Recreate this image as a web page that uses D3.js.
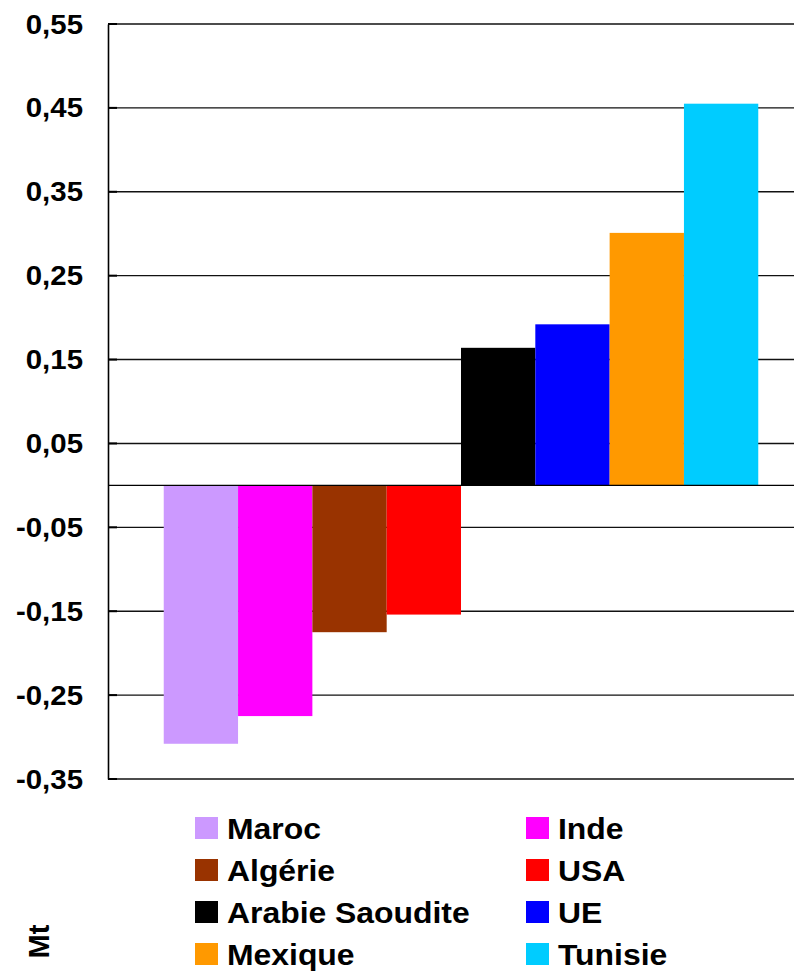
<!DOCTYPE html>
<html>
<head>
<meta charset="utf-8">
<script src="https://cdn.jsdelivr.net/npm/d3@7"></script>
<style>
html,body{margin:0;padding:0;background:#fff;overflow:hidden;}
svg{display:block;}
text{font-family:"Liberation Sans",Arial,sans-serif;font-weight:bold;fill:#000;}
</style>
</head>
<body>
<svg id="chart" width="794" height="972"></svg>
<script>
const categories = ["Maroc","Inde","Algérie","USA","Arabie Saoudite","UE","Mexique","Tunisie"];
const values = [-0.308,-0.275,-0.175,-0.154,0.164,0.192,0.301,0.455];
const colors = ["#CC99FF","#FF00FF","#993300","#FF0000","#000000","#0000FF","#FF9900","#00CCFF"];
const tickValues = [-0.35,-0.25,-0.15,-0.05,0.05,0.15,0.25,0.35,0.45,0.55];
const yLabel = "Mt";

const svg = d3.select("#chart");
const W = 794, H = 972;
const plotLeft = 108, plotRight = 814, plotTop = 24, plotBottom = 779;

const y = d3.scaleLinear().domain([-0.35,0.55]).range([plotBottom, plotTop]);
const x = d3.scaleBand().domain(categories).range([plotLeft, plotRight]).paddingInner(0).paddingOuter(0.75);

const loc = d3.formatLocale({decimal:",", thousands:" ", grouping:[3], currency:["",""], minus:"-"});
const fmt = loc.format(".2f");

// gridlines
svg.append("g").selectAll("line").data(tickValues).join("line")
  .attr("x1", plotLeft).attr("x2", W)
  .attr("y1", d => y(d)).attr("y2", d => y(d))
  .attr("stroke", "#111").attr("stroke-width", 1.4);

// bars
svg.append("g").selectAll("rect").data(categories).join("rect")
  .attr("x", d => x(d))
  .attr("width", x.bandwidth())
  .attr("y", (d,i) => y(Math.max(0, values[i])))
  .attr("height", (d,i) => Math.abs(y(values[i]) - y(0)))
  .attr("fill", (d,i) => colors[i]);

// zero line
svg.append("line").attr("x1", plotLeft).attr("x2", W)
  .attr("y1", y(0)).attr("y2", y(0))
  .attr("stroke", "#000").attr("stroke-width", 1.4);

// y axis (line only, labels drawn with horizontal stretch)
const axis = d3.axisLeft(y).tickValues(tickValues).tickFormat("").tickSize(0);
const ag = svg.append("g").attr("transform", `translate(${plotLeft},0)`).call(axis);
ag.select(".domain").attr("stroke", "#000").attr("stroke-width", 1.6);
svg.append("g").selectAll("text").data(tickValues).join("text")
  .attr("transform", d => `translate(83,${y(d) + 9.5}) scale(1.09,1)`)
  .attr("text-anchor", "end")
  .style("font-size", "27px")
  .text(d => fmt(d));
// small inner tick marks
svg.append("g").selectAll("line").data(tickValues).join("line")
  .attr("x1", plotLeft).attr("x2", plotLeft + 9)
  .attr("y1", d => y(d)).attr("y2", d => y(d))
  .attr("stroke", "#000").attr("stroke-width", 2);

// legend
const legend = svg.append("g");
const colX = [195, 526];
const rowY = [817, 859, 901, 943];
categories.forEach((c, i) => {
  const col = i % 2, row = Math.floor(i / 2);
  const g = legend.append("g").attr("transform", `translate(${colX[col]},${rowY[row]})`);
  g.append("rect").attr("width", 23).attr("height", 22).attr("fill", colors[i]);
  g.append("text").attr("transform", "translate(32,22) scale(1.1,1)").style("font-size", "29px").text(c);
});

// y label
svg.append("text")
  .attr("transform", "translate(49,941.5) rotate(-90)")
  .attr("text-anchor", "middle")
  .style("font-size", "29px")
  .text(yLabel);
</script>
</body>
</html>
